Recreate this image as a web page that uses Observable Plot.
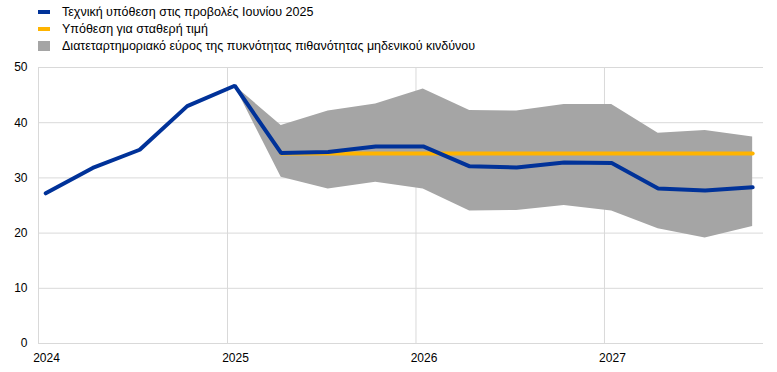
<!DOCTYPE html>
<html>
<head>
<meta charset="utf-8">
<script src="https://cdn.jsdelivr.net/npm/d3@7"></script>
<script src="https://cdn.jsdelivr.net/npm/@observablehq/plot@0.6"></script>
<style>
  body { margin: 0; background: #fff; font-family: Arial, "Liberation Sans", sans-serif; }
  #legend { height: 55px; position: relative; font-size: 12.5px; color: #000; }
  .item { position: absolute; left: 38px; height: 17px; display: flex; align-items: center; }
  .sw { width: 12px; margin-right: 12px; }
  svg { display: block; }
</style>
</head>
<body>
<div id="legend"></div>
<div id="chart"></div>
<script>
// Quarterly dates (mid first month of quarter)
const quarters = [
  "2024-01-15","2024-04-15","2024-07-15","2024-10-15",
  "2025-01-15","2025-04-15","2025-07-15","2025-10-15",
  "2026-01-15","2026-04-15","2026-07-15","2026-10-15",
  "2027-01-15","2027-04-15","2027-07-15","2027-10-15"
];
// Technical assumption in June 2025 projections
const baseline = [27.2, 31.8, 35.1, 43.0, 46.7, 34.5, 34.7, 35.7, 35.7, 32.1, 31.9, 32.8, 32.7, 28.1, 27.7, 28.3];
// Constant price assumption (from 2025Q2)
const constantPrice = [null, null, null, null, null, 34.4, 34.4, 34.4, 34.4, 34.4, 34.4, 34.4, 34.4, 34.4, 34.4, 34.4];
// Interquartile range of risk-neutral density (from 2025Q1)
const bandLow  = [null, null, null, null, 46.7, 30.1, 28.0, 29.2, 28.0, 24.0, 24.1, 25.0, 24.0, 20.8, 19.1, 21.2];
const bandHigh = [null, null, null, null, 46.7, 39.5, 42.1, 43.4, 46.1, 42.2, 42.1, 43.3, 43.3, 38.1, 38.6, 37.4];

const yTicks = [0, 10, 20, 30, 40, 50];
const yearTicks = ["2024-01-01", "2025-01-01", "2026-01-01", "2027-01-01"];
const seriesLabels = [
  "Τεχνική υπόθεση στις προβολές Ιουνίου 2025",
  "Υπόθεση για σταθερή τιμή",
  "Διατεταρτημοριακό εύρος της πυκνότητας πιθανότητας μηδενικού κινδύνου"
];
const colors = ["#003299", "#ffb400", "#a5a5a5"];

// Legend
const legend = document.getElementById("legend");
seriesLabels.forEach((lab, i) => {
  const it = document.createElement("div");
  it.className = "item";
  it.style.top = (3 + i * 17) + "px";
  const sw = document.createElement("span");
  sw.className = "sw";
  sw.style.background = colors[i];
  sw.style.height = i === 2 ? "10px" : "4px";
  it.appendChild(sw);
  it.appendChild(document.createTextNode(lab));
  legend.appendChild(it);
});

const parse = d3.utcParse("%Y-%m-%d");
const data = quarters.map((q, i) => ({
  date: parse(q),
  base: baseline[i],
  cp: constantPrice[i],
  lo: bandLow[i],
  hi: bandHigh[i]
}));
const bandData = data.filter(d => d.lo != null);
const cpData = data.filter(d => d.cp != null);
const years = yearTicks.map(parse);

const chart = Plot.plot({
  width: 777,
  height: 317,
  marginTop: 12,
  marginBottom: 29,
  marginLeft: 38,
  marginRight: 14,
  style: { fontFamily: 'Arial, "Liberation Sans", sans-serif', fontSize: "12px", color: "#000", background: "#fff" },
  x: { type: "utc", domain: [parse("2024-01-01"), parse("2027-11-05")] },
  y: { domain: [0, 50] },
  marks: [
    Plot.ruleY(yTicks, { stroke: "#d9d9d9", strokeWidth: 1 }),
    Plot.ruleX(years, { stroke: "#d9d9d9", strokeWidth: 1 }),
    Plot.areaY(bandData, { x: "date", y1: "lo", y2: "hi", fill: colors[2], curve: "linear" }),
    Plot.line(cpData, { x: "date", y: "cp", stroke: colors[1], strokeWidth: 4, strokeLinecap: "round" }),
    Plot.line(data, { x: "date", y: "base", stroke: colors[0], strokeWidth: 4, strokeLinecap: "round", strokeLinejoin: "miter" }),
    Plot.axisY({ ticks: yTicks, tickSize: 0, tickPadding: 11, tickFormat: d => String(d), label: null }),
    Plot.axisX({ ticks: years, tickSize: 0, tickPadding: 10, dx: 8, tickFormat: d3.utcFormat("%Y"), label: null })
  ]
});
document.getElementById("chart").appendChild(chart);
</script>
</body>
</html>
